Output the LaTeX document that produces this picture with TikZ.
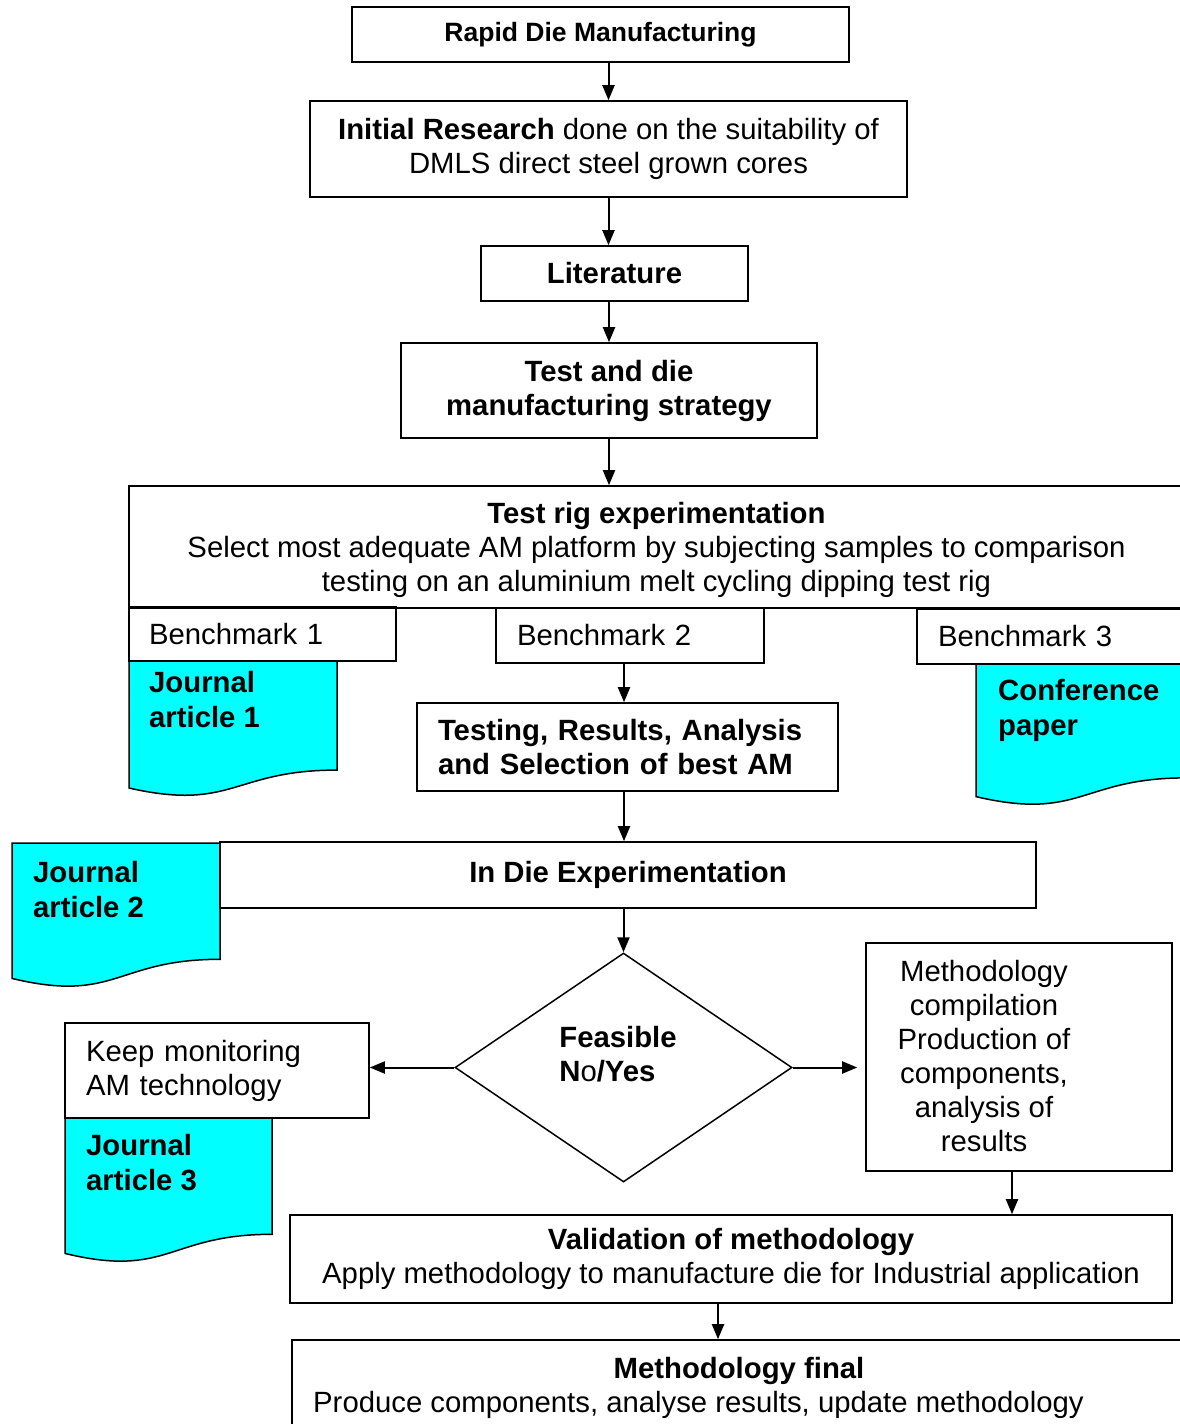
\documentclass[tikz,border=0pt]{standalone}
\usepackage{fontspec}
\setmainfont{Liberation Sans}
\usetikzlibrary{shapes.geometric,arrows.meta}
\newcommand\fsr{\fontsize{29.3}{34}\selectfont}
\newcommand\fsb{\fontsize{29.3}{34}\selectfont\bfseries}
\newcommand\fsj{\fontsize{29.3}{35.5}\selectfont\bfseries}
\definecolor{doccyan}{RGB}{0,255,255}
\newcommand\docshape[4]{%
  \draw[doc] (#1,#2) -- ({#1+#3},#2) -- ({#1+#3},{#2+0.802*#4})
    .. controls ({#1+0.5*#3},{#2+0.802*#4}) and ({#1+0.5*#3},{#2+1.107*#4}) ..
    (#1,{#2+0.934*#4}) -- cycle;}
\begin{document}
\begin{tikzpicture}[x=1pt,y=-1pt,
  box/.style={draw, line width=1.6pt, inner sep=0pt, font=\fsr},
  bbox/.style={box, font=\fsb},
  arr/.style={-{Triangle[length=15pt,width=12pt]}, line width=2pt},
  doc/.style={draw, fill=doccyan, line width=1.5pt},
  lbl/.style={inner sep=0pt, font=\fsj, align=left, anchor=north west},
]
\useasboundingbox (0,0) rectangle (1180,1424);
\fill[white] (0,0) rectangle (1180,1424);

% document shapes
\docshape{129}{661}{208}{136}
\docshape{976}{664}{210}{142}
\docshape{12}{843}{208}{145}
\docshape{65}{1118}{207}{145}

\node[lbl] (j1) at (149,671) {Journal\\article 1};
\node[lbl] (cp) at (998,679) {Conference\\paper};
\node[lbl] (j2) at (33,861) {Journal\\article 2};
\node[lbl] (j3) at (86,1134) {Journal\\article 3};

% boxes
\node[bbox, font=\fontsize{26.5}{32}\selectfont\bfseries, minimum width=497pt, minimum height=55pt] (rdm) at (600.5,34.5) {Rapid Die Manufacturing};
\node[box, minimum width=597pt, minimum height=96pt, align=center] (ir) at (608.5,149) {\textbf{Initial Research} done on the suitability of\\DMLS direct steel grown cores};
\node[bbox, minimum width=267pt, minimum height=55pt] (lit) at (614.5,273.5) {Literature};
\node[bbox, minimum width=416pt, minimum height=95pt, align=center] (tds) at (609,390.5) {Test and die\\manufacturing strategy};
\node[box, minimum width=1071pt, minimum height=122pt] (rig) at (664.5,547) {};
\node[inner sep=0pt, font=\fsr, align=center] (rigt) at (656.5,550) {\textbf{Test rig experimentation}\\Select most adequate AM platform by subjecting samples to comparison\\testing on an aluminium melt cycling dipping test rig};

\node[box, minimum height=54pt, text width=227pt, inner xsep=20pt, align=left] (b1) at (262.5,634) {Benchmark 1};
\node[box, minimum height=55pt, text width=226pt, inner xsep=21pt, align=left] (b2) at (630,635.5) {Benchmark 2};
\node[box, minimum height=55pt, text width=241pt, inner xsep=21pt, align=left] (b3) at (1058.5,636.5) {Benchmark 3};

\node[bbox, minimum height=88pt, text width=379pt, inner xsep=21pt, align=left] (tst) at (627.5,747) {Testing, Results, Analysis\\and Selection of best AM};
\node[bbox, minimum width=816pt, minimum height=66pt] (ind) at (628,875) {In Die Experimentation};

\node[draw, diamond, line width=1.5pt, minimum width=337pt, minimum height=229pt, inner sep=0pt] (dia) at (623.5,1067.5) {};
\node[inner sep=0pt, font=\fsb, align=left] (feas) at (618,1054) {Feasible\\N{\mdseries o}/Yes};

\node[box, minimum height=95pt, text width=262pt, inner xsep=21pt, align=left] (keep) at (217,1070.5) {Keep monitoring\\AM technology};

\node[box, minimum width=306pt, minimum height=228pt] (mc) at (1019,1057) {};
\node[inner sep=0pt, font=\fsr, align=center] (mct) at (984,1056) {Methodology\\compilation\\Production of\\components,\\analysis of\\results};

\node[box, minimum width=882pt, minimum height=88pt, align=center] (val) at (731,1259) {\textbf{Validation of methodology}\\Apply methodology to manufacture die for Industrial application};

\node[box, minimum width=908pt, minimum height=130pt] (mf) at (746,1405) {};
\node[inner sep=0pt, font=\fsb, anchor=base] (mf1) at (739,1378) {Methodology final};
\node[inner sep=0pt, font=\fsr, anchor=base west] (mf2) at (313,1412) {Produce components, analyse results, update methodology};

% connectors
\draw[arr] (ir.north |- rdm.south) -- (ir.north);
\draw[arr] (ir.south) -- (ir.south |- lit.north);
\draw[arr] (tds.north |- lit.south) -- (tds.north);
\draw[arr] (tds.south) -- (tds.south |- rig.north);
\draw[arr] ([xshift=-6pt]b2.south) -- ([xshift=-6pt]b2.south |- tst.north);
\draw[arr] ([xshift=-3.5pt]tst.south) -- ([xshift=-3.5pt]tst.south |- ind.north);
\draw[arr] (dia.north |- ind.south) -- (dia.north);
\draw[arr] (dia.west) -- (dia.west -| keep.east);
\draw[arr, shorten >=8pt] (dia.east) -- (dia.east -| mc.west);
\draw[arr] ([xshift=-7pt]mc.south) -- ([xshift=-7pt]mc.south |- val.north);
\draw[arr] ([xshift=-13pt]val.south) -- ([xshift=-13pt]val.south |- mf.north);
\end{tikzpicture}
\end{document}
